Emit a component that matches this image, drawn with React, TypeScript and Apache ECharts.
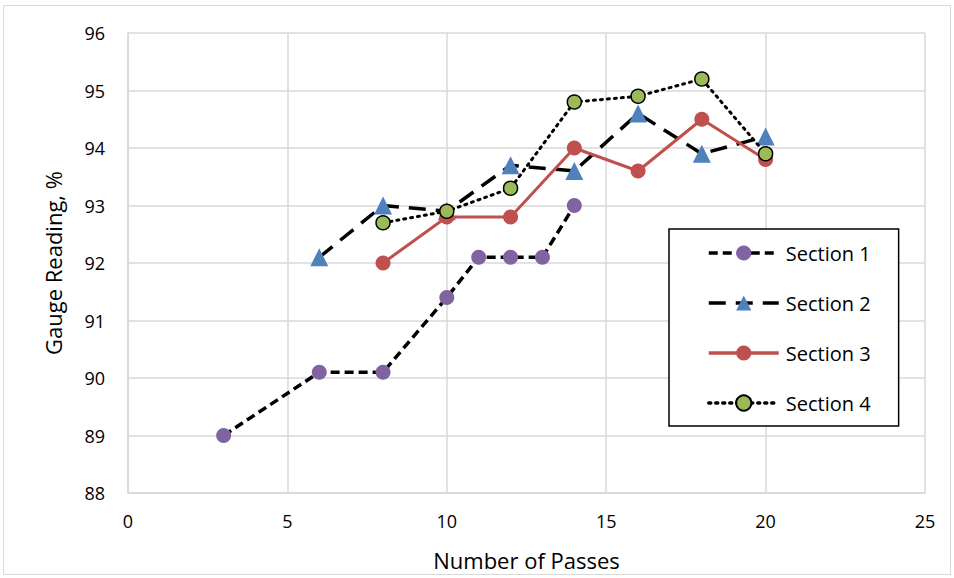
import React, { useEffect, useRef } from "react";
import * as echarts from "echarts";

const sec1X = [3, 6, 8, 10, 11, 12, 13, 14];
const sec1Y = [89.0, 90.1, 90.1, 91.4, 92.1, 92.1, 92.1, 93.0];
const sec2X = [6, 8, 10, 12, 14, 16, 18, 20];
const sec2Y = [92.1, 93.0, 92.9, 93.7, 93.6, 94.6, 93.9, 94.2];
const sec3X = [8, 10, 12, 14, 16, 18, 20];
const sec3Y = [92.0, 92.8, 92.8, 94.0, 93.6, 94.5, 93.8];
const sec4X = [8, 10, 12, 14, 16, 18, 20];
const sec4Y = [92.7, 92.9, 93.3, 94.8, 94.9, 95.2, 93.9];
const seriesNames = ["Section 1", "Section 2", "Section 3", "Section 4"];

const pairs = (xs: number[], ys: number[]) => xs.map((x, i) => [x, ys[i]]);

const FONT = "'Open Sans', 'Noto Sans', sans-serif";

export default function App() {
  const ref = useRef<HTMLDivElement>(null);
  useEffect(() => {
    if (!ref.current) return;
    const chart = echarts.init(ref.current, null, { renderer: "svg" });
    chart.setOption({
      animation: false,
      backgroundColor: "#ffffff",
      grid: { left: 128, right: 29, top: 33, bottom: 85 },
      graphic: [
        {
          type: "rect",
          shape: { x: 3.5, y: 5.5, width: 947, height: 569 },
          style: { fill: "none", stroke: "#d9d9d9", lineWidth: 1 },
          silent: true,
        },
      ],
      xAxis: {
        type: "value",
        min: 0,
        max: 25,
        interval: 5,
        name: "Number of Passes",
        nameLocation: "middle",
        nameGap: 56,
        nameTextStyle: { fontFamily: FONT, fontSize: 22, color: "#000" },
        axisLine: { show: true, lineStyle: { color: "#d9d9d9", width: 1.5 } },
        axisTick: { show: false },
        axisLabel: { fontFamily: FONT, fontSize: 18, color: "#000", margin: 19 },
        splitLine: { show: true, lineStyle: { color: "#d9d9d9", width: 1.5 } },
      },
      yAxis: {
        type: "value",
        min: 88,
        max: 96,
        interval: 1,
        name: "Gauge Reading, %",
        nameLocation: "middle",
        nameGap: 64,
        nameTextStyle: { fontFamily: FONT, fontSize: 22, color: "#000" },
        axisLine: { show: true, lineStyle: { color: "#d9d9d9", width: 1.5 } },
        axisTick: { show: false },
        axisLabel: { fontFamily: FONT, fontSize: 18, color: "#000", margin: 23 },
        splitLine: { show: true, lineStyle: { color: "#d9d9d9", width: 1.5 } },
      },
      legend: {
        orient: "vertical",
        left: 669,
        top: 229,
        padding: [14, 28, 13, 38],
        itemGap: 30,
        itemWidth: 70,
        itemHeight: 19,
        backgroundColor: "#ffffff",
        borderColor: "#000000",
        borderWidth: 1.5,
        borderRadius: 0,
        lineStyle: { width: 3.5 },
        textStyle: {
          fontFamily: FONT,
          fontSize: 20,
          lineHeight: 20,
          color: "#000",
          padding: [0, 0, 0, 2],
        },
        data: seriesNames,
      },
      series: [
        {
          name: seriesNames[0],
          type: "line",
          data: pairs(sec1X, sec1Y),
          symbol: "circle",
          symbolSize: 15,
          itemStyle: { color: "#8064A2" },
          lineStyle: { color: "#000", width: 3.5, type: [9, 5] },
          z: 2,
        },
        {
          name: seriesNames[1],
          type: "line",
          data: pairs(sec2X, sec2Y),
          symbol: "triangle",
          symbolSize: 18,
          itemStyle: { color: "#4F81BD" },
          lineStyle: { color: "#000", width: 3.5, type: [17, 10] },
          z: 3,
        },
        {
          name: seriesNames[2],
          type: "line",
          data: pairs(sec3X, sec3Y),
          symbol: "circle",
          symbolSize: 15,
          itemStyle: { color: "#C0504D" },
          lineStyle: { color: "#C0504D", width: 3 },
          z: 4,
        },
        {
          name: seriesNames[3],
          type: "line",
          data: pairs(sec4X, sec4Y),
          symbol: "circle",
          symbolSize: 14,
          itemStyle: { color: "#9BBB59", borderColor: "#000", borderWidth: 1.5 },
          lineStyle: { color: "#000", width: 3, type: [2, 5], cap: "round" },
          z: 5,
        },
      ],
    });
    return () => chart.dispose();
  }, []);
  return (
    <div
      ref={ref}
      style={{ position: "absolute", left: 0, top: 0, width: 954, height: 578 }}
    />
  );
}
